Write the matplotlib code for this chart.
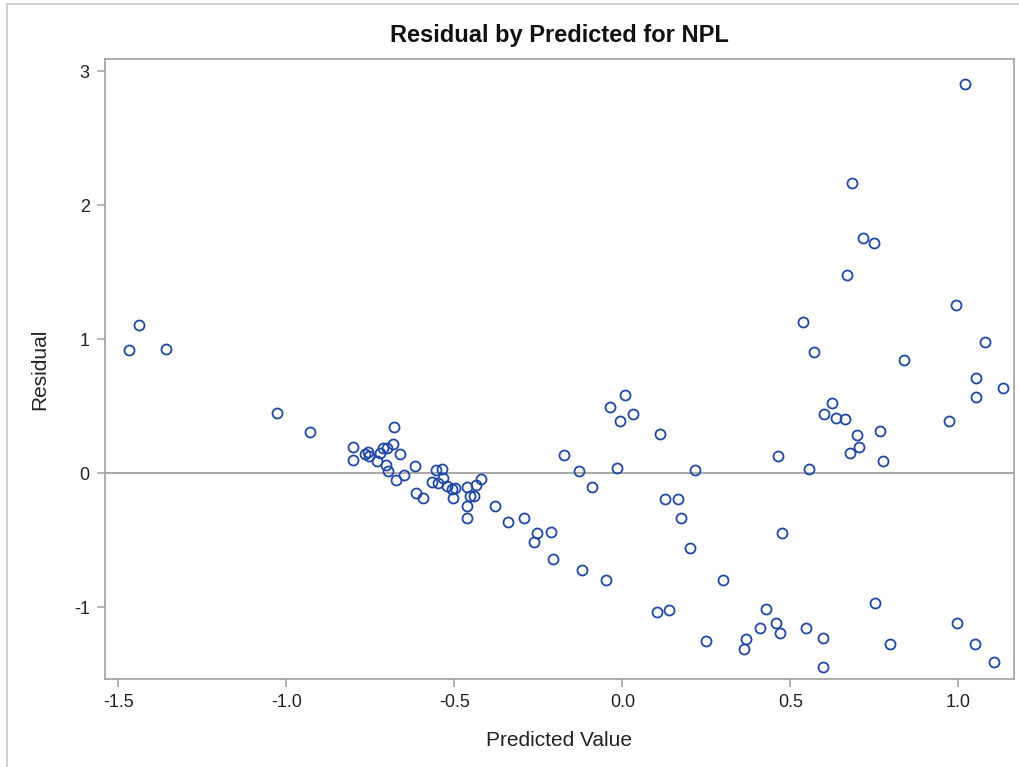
import matplotlib
matplotlib.use("Agg")
import matplotlib.pyplot as plt
from matplotlib.lines import Line2D

# Predicted values and residuals for the NPL model
predicted = [
    -1.469, -1.440, -1.359, -1.028, -0.930,
    -0.680, -0.801, -0.801, -0.766, -0.756, -0.753, -0.731, -0.721, -0.711,
    -0.701, -0.684, -0.703, -0.698, -0.662, -0.675, -0.650, -0.617, -0.614,
    -0.592, -0.567, -0.556, -0.536, -0.533, -0.548, -0.521, -0.507, -0.498,
    -0.503, -0.461, -0.461, -0.461, -0.453, -0.443, -0.436, -0.421, -0.379,
    -0.340, -0.294, -0.254, -0.263, -0.212, -0.207, -0.174, -0.130, -0.089,
    -0.120, -0.050, -0.036, 0.009, -0.006, 0.032, -0.015, 0.113, 0.128,
    0.166, 0.175, 0.215, 0.200, 0.103, 0.138, 0.250, 0.299, 0.362, 0.367,
    0.409, 0.428, 0.458, 0.468, 0.462, 0.476, 0.548, 0.557, 0.596, 0.596,
    0.624, 0.600, 0.635, 0.683, 0.716, 0.749, 0.668, 0.539, 0.572, 0.993,
    1.079, 0.839, 1.054, 1.133, 1.054, 0.973, 0.663, 0.700, 0.767, 0.706,
    0.677, 0.777, 0.753, 0.796, 0.997, 1.049, 1.106, 1.019,
]
residual = [
    0.915, 1.107, 0.927, 0.449, 0.305,
    0.342, 0.197, 0.097, 0.142, 0.159, 0.127, 0.090, 0.147, 0.184,
    0.189, 0.214, 0.060, 0.017, 0.140, -0.052, -0.017, 0.055, -0.152,
    -0.185, -0.065, 0.022, 0.032, -0.035, -0.077, -0.095, -0.122, -0.115,
    -0.185, -0.107, -0.247, -0.332, -0.172, -0.172, -0.090, -0.045, -0.247,
    -0.366, -0.339, -0.451, -0.511, -0.439, -0.643, 0.137, 0.017, -0.102,
    -0.726, -0.798, 0.496, 0.581, 0.387, 0.439, 0.040, 0.294, -0.197,
    -0.197, -0.339, 0.020, -0.556, -1.035, -1.025, -1.251, -0.798, -1.314,
    -1.239, -1.159, -1.015, -1.119, -1.194, 0.125, -0.451, -1.157, 0.030,
    -1.229, -1.444, 0.521, 0.439, 0.414, 2.162, 1.752, 1.718, 1.478, 1.129,
    0.903, 1.251, 0.977, 0.843, 0.711, 0.638, 0.566, 0.387, 0.401, 0.282,
    0.317, 0.197, 0.147, 0.090, -0.967, -1.277, -1.119, -1.277, -1.409, 2.902,
]

x_ticks = [-1.5, -1.0, -0.5, 0.0, 0.5, 1.0]
x_tick_labels = ["-1.5", "-1.0", "-0.5", "0.0", "0.5", "1.0"]
y_ticks = [-1, 0, 1, 2, 3]
y_tick_labels = ["-1", "0", "1", "2", "3"]

plt.rcParams["font.family"] = ["Liberation Sans", "DejaVu Sans"]

W, H = 1020, 767
fig = plt.figure(figsize=(W / 100, H / 100), dpi=100)
fig.patch.set_facecolor("white")

# light frame along the top and left of the graph area
fig.add_artist(Line2D([7 / W, 7 / W], [0, 1 - 4 / H], transform=fig.transFigure,
                      color="#c8c8c8", lw=1.2))
fig.add_artist(Line2D([7 / W, 1], [1 - 4 / H, 1 - 4 / H], transform=fig.transFigure,
                      color="#c8c8c8", lw=1.2))

left, right, top, bottom = 105, 1014, 59, 679
ax = fig.add_axes([left / W, 1 - bottom / H, (right - left) / W, (bottom - top) / H])

spine_col = "#a0a0a0"
for s in ax.spines.values():
    s.set_color(spine_col)
    s.set_linewidth(1.2)

ax.axhline(0, color="#9a9a9a", lw=1.2, zorder=1)

ax.plot(predicted, residual, linestyle="none", marker="o", markersize=7.2,
        markerfacecolor="none", markeredgecolor="#2048a8", markeredgewidth=1.3,
        zorder=3)

ax.set_xlim(-1.540, 1.166)
ax.set_ylim(-1.537, 3.090)

ax.set_xticks(x_ticks)
ax.set_xticklabels(x_tick_labels)
ax.set_yticks(y_ticks)
ax.set_yticklabels(y_tick_labels)
ax.tick_params(axis="both", direction="out", length=6, width=1.1, color=spine_col,
               labelsize=13, labelcolor="#222222", pad=5)

ax.set_xlabel("Predicted Value", fontsize=15, color="#222222", labelpad=14)
ax.set_ylabel("Residual", fontsize=15, color="#222222", labelpad=18)
ax.set_title("Residual by Predicted for NPL", fontsize=17, fontweight="bold",
             color="#111111", pad=12)

fig.savefig("out.png", dpi=100, facecolor="white")
